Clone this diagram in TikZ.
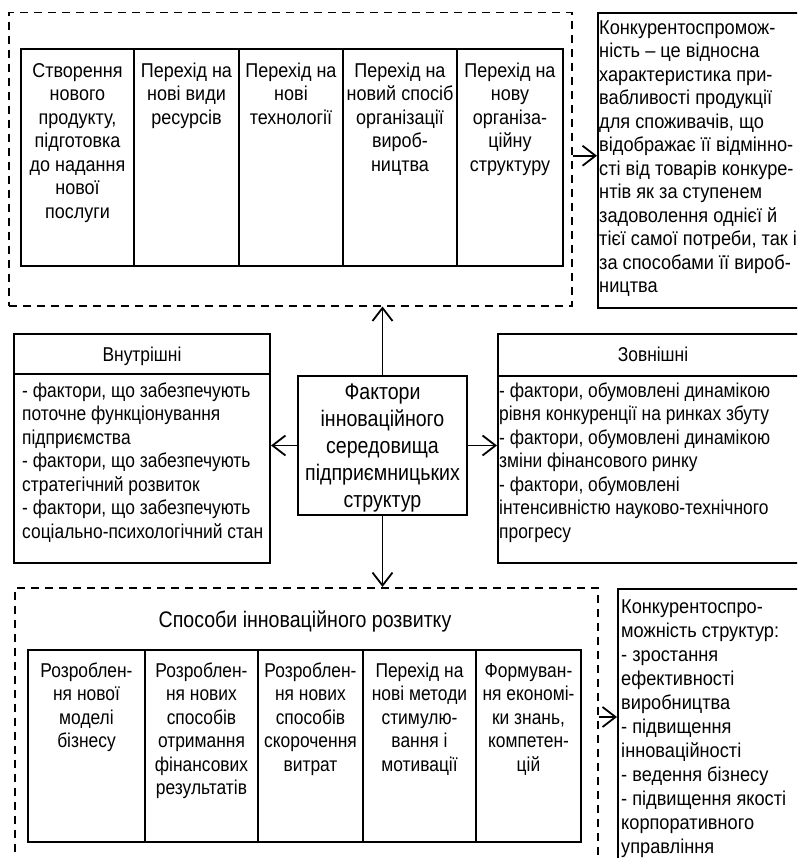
\documentclass[tikz,border=0pt]{standalone}
\usepackage{fontspec}
\setmainfont{Liberation Sans}[FakeStretch=0.9]
\newfontfamily\narrowfont{Liberation Sans}[FakeStretch=0.87]
\newfontfamily\widefont{Liberation Sans}[FakeStretch=0.91]
\usetikzlibrary{arrows.meta}

\newcommand\bodyfont{\fontsize{20pt}{23.5pt}\selectfont}
\newcommand\bigfont{\fontsize{22.5pt}{27pt}\selectfont}
% struts that fix the height of the first line of a text block
\newcommand\fs{\rule{0pt}{15pt}}
\newcommand\fb{\rule{0pt}{17pt}}

\begin{document}
\begin{tikzpicture}[x=1pt,y=-1pt,
  dashbox/.style={draw, line width=1.5pt, dash pattern=on 8pt off 6pt, anchor=north west, inner sep=0pt},
  cell/.style={draw, line width=2pt, anchor=north west, inner sep=0pt},
  note/.style={draw, line width=1.6pt, anchor=north west, inner sep=0pt},
  celltext/.style={anchor=north, align=center, inner sep=0pt, font=\bodyfont},
  listtext/.style={anchor=north west, align=left, inner sep=0pt, font=\bodyfont},
  bigtext/.style={anchor=north, align=center, inner sep=0pt, font=\narrowfont\bigfont},
  lowtext/.style={celltext, font=\narrowfont\bodyfont},
  link/.style={line width=1.8pt, -{Straight Barb[length=13pt,width=20pt,line width=1.8pt]}}
]
\useasboundingbox (0,0) rectangle (797,858);
\clip (0,0) rectangle (797,858);

% ---------- upper group: directions of change ----------
\node[dashbox, minimum width=563pt, minimum height=293pt] (topgroup) at (8,12) {};
\node[cell, minimum width=113pt, minimum height=217pt] (t1) at (20,48) {};
\node[cell, minimum width=105pt, minimum height=217pt] (t2) at (133,48) {};
\node[cell, minimum width=104pt, minimum height=217pt] (t3) at (238,48) {};
\node[cell, minimum width=114pt, minimum height=217pt] (t4) at (342,48) {};
\node[cell, minimum width=106pt, minimum height=217pt] (t5) at (456,48) {};
\node[celltext] (t1x) at ([yshift=-14pt]t1.north) {\fs Створення\\нового\\продукту,\\підготовка\\до надання\\нової\\послуги};
\node[celltext] (t2x) at ([yshift=-14pt]t2.north) {\fs Перехід на\\нові види\\ресурсів};
\node[celltext] (t3x) at ([yshift=-14pt]t3.north) {\fs Перехід на\\нові\\технології};
\node[celltext] (t4x) at ([yshift=-14pt]t4.north) {\fs Перехід на\\новий спосіб\\організації\\вироб-\\ництва};
\node[celltext] (t5x) at ([yshift=-14pt]t5.north) {\fs Перехід на\\нову\\організа-\\ційну\\структуру};

% definition of competitiveness
\node[note, minimum width=210pt, minimum height=295pt] (def) at (597,12) {};
\node[listtext, font=\widefont\bodyfont] (defx) at (599,19) {\fs Конкурентоспромож-\\ність – це відносна\\характеристика при-\\вабливості продукції\\для споживачів, що\\відображає її відмінно-\\сті від товарів конкуре-\\нтів як за ступенем\\задоволення однієї й\\тієї самої потреби, так і\\за способами її вироб-\\ництва};

% ---------- middle row: factors ----------
\node[cell, minimum width=169pt, minimum height=139pt] (fac) at (297,375) {};
\node[bigtext] (facx) at ([yshift=-7pt]fac.north) {\fb Фактори\\інноваційного\\середовища\\підприємницьких\\структур};

\node[cell, minimum width=256pt, minimum height=229pt] (inner) at (13,333) {};
\draw[line width=2pt] ([yshift=-41pt]inner.north west) -- ([yshift=-41pt]inner.north east);
\node[celltext, font=\narrowfont\bodyfont] (innerh) at ([yshift=-13pt]inner.north) {\fs Внутрішні};
\node[listtext, font=\narrowfont\bodyfont] (innerx) at (22,382) {\fs - фактори, що забезпечують\\поточне функціонування\\підприємства\\- фактори, що забезпечують\\стратегічний розвиток\\- фактори, що забезпечують\\соціально-психологічний стан};

\node[cell, minimum width=310pt, minimum height=229pt] (outer) at (497,333) {};
\draw[line width=2pt] ([yshift=-43pt]outer.north west) -- ([yshift=-43pt]outer.north east);
\node[celltext, font=\narrowfont\bodyfont] (outerh) at ([yshift=-13pt]outer.north) {\fs Зовнішні};
\node[listtext, font=\narrowfont\bodyfont] (outerx) at (499,382) {\fs - фактори, обумовлені динамікою\\рівня конкуренції на ринках збуту\\- фактори, обумовлені динамікою\\зміни фінансового ринку\\- фактори, обумовлені\\інтенсивністю науково-технічного\\прогресу};

% ---------- lower group: ways of innovative development ----------
\node[dashbox, minimum width=583pt, minimum height=300pt] (botgroup) at (14,587) {};
\node[bigtext] (bottitle) at (305,610) {\fb Способи інноваційного розвитку};
\node[cell, minimum width=117pt, minimum height=192pt] (b1) at (27,649) {};
\node[cell, minimum width=113pt, minimum height=192pt] (b2) at (144,649) {};
\node[cell, minimum width=105pt, minimum height=192pt] (b3) at (257,649) {};
\node[cell, minimum width=113pt, minimum height=192pt] (b4) at (362,649) {};
\node[cell, minimum width=105pt, minimum height=192pt] (b5) at (475,649) {};
\node[lowtext] (b1x) at ([yshift=-13pt]b1.north) {\fs Розроблен-\\ня нової\\моделі\\бізнесу};
\node[lowtext] (b2x) at ([yshift=-13pt]b2.north) {\fs Розроблен-\\ня нових\\способів\\отримання\\фінансових\\результатів};
\node[lowtext] (b3x) at ([yshift=-13pt]b3.north) {\fs Розроблен-\\ня нових\\способів\\скорочення\\витрат};
\node[lowtext] (b4x) at ([yshift=-13pt]b4.north) {\fs Перехід на\\нові методи\\стимулю-\\вання і\\мотивації};
\node[lowtext] (b5x) at ([yshift=-13pt]b5.north) {\fs Формуван-\\ня економі-\\ки знань,\\компетен-\\цій};

% resulting competitiveness
\node[note, minimum width=190pt, minimum height=300pt] (res) at (617,588) {};
\node[listtext, font=\widefont\fontsize{20pt}{24pt}\selectfont] (resx) at (621,598) {\fs Конкурентоспро-\\можність структур:\\- зростання\\ефективності\\виробництва\\- підвищення\\інноваційності\\- ведення бізнесу\\- підвищення якості\\корпоративного\\управління};

% ---------- connectors ----------
\draw[link] (fac.north) -- (fac.north |- topgroup.south);
\draw[link] (fac.west) -- (fac.west -| inner.east);
\draw[link] (fac.east) -- (fac.east -| outer.west);
\draw[link] (fac.south) -- (fac.south |- botgroup.north);
\coordinate (a1) at ([yshift=3.5pt]topgroup.east);
\draw[link] (a1) -- (a1 -| def.west);
\coordinate (a2) at ([yshift=-130pt]botgroup.north east);
\draw[link] (a2) -- (a2 -| res.west);
\end{tikzpicture}
\end{document}
